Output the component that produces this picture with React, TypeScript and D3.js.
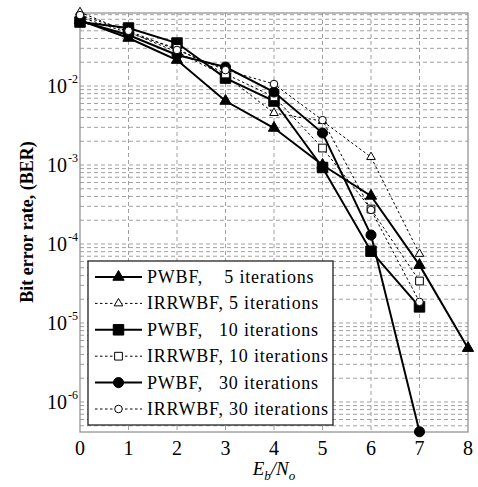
import React from "react";
import * as d3 from "d3";

const ebno = [0, 1, 2, 3, 4, 5, 6, 7, 8];
const pwbf5 = [0.068, 0.0405, 0.0213, 0.00646, 0.00294, 0.001, 4.06e-4, 5.4e-5, 4.8e-6];
const irrwbf5 = [0.086, 0.0483, 0.027, 0.0134, 0.00455, 0.0036, 0.00126, 7.5e-5];
const pwbf10 = [0.0646, 0.0542, 0.035, 0.0126, 0.00646, 9.3e-4, 8.1e-5, 1.6e-5];
const irrwbf10 = [0.0747, 0.047, 0.03, 0.0142, 0.0073, 0.00164, 2.77e-4, 3.4e-5];
const pwbf30 = [0.0665, 0.0443, 0.0247, 0.0174, 0.0084, 0.00254, 1.3e-4, 4.2e-7];
const irrwbf30 = [0.079, 0.05, 0.0286, 0.0159, 0.0106, 0.0037, 2.7e-4, 1.85e-5];
const seriesNames = [
  "PWBF,    5 iterations",
  "IRRWBF, 5 iterations",
  "PWBF,   10 iterations",
  "IRRWBF, 10 iterations",
  "PWBF,   30 iterations",
  "IRRWBF, 30 iterations",
];
const xTicks = [0, 1, 2, 3, 4, 5, 6, 7, 8];
const yDecades = [-2, -3, -4, -5, -6];

const W = 478, H = 487;
const L = 80, R = 468, T = 13, B = 432;
const FONT = "'Liberation Serif', 'Times New Roman', serif";

type Mk = "tri" | "sq" | "circ";
const series: { vals: number[]; mk: Mk; filled: boolean }[] = [
  { vals: pwbf5, mk: "tri", filled: true },
  { vals: irrwbf5, mk: "tri", filled: false },
  { vals: pwbf10, mk: "sq", filled: true },
  { vals: irrwbf10, mk: "sq", filled: false },
  { vals: pwbf30, mk: "circ", filled: true },
  { vals: irrwbf30, mk: "circ", filled: false },
];

function markerPath(mk: Mk, filled: boolean) {
  const t = mk === "tri" ? d3.symbolTriangle : mk === "sq" ? d3.symbolSquare : d3.symbolCircle;
  const size = mk === "tri" ? (filled ? 55 : 32) : mk === "sq" ? (filled ? 110 : 60) : (filled ? 80 : 45);
  return d3.symbol().type(t).size(size)() as string;
}

export default function App() {
  const x = d3.scaleLinear().domain([0, 8]).range([L, R]);
  const y = d3.scaleLog().domain([4.17e-7, 0.084]).range([B, T]);
  const line = (vals: number[]) =>
    d3.line<number>().x((_, i) => x(ebno[i])).y((v) => y(v))(vals) as string;

  const minor: number[] = [];
  for (let e = -7; e <= -1; e++) {
    for (let m = 1; m <= 9; m++) {
      const v = m * Math.pow(10, e);
      if (v > 4.17e-7 && v < 0.084) minor.push(v);
    }
  }
  const grid = "#a0a0a0";
  const legX = 88, legY = 261, legW = 245, legH = 164;

  return (
    <svg width={W} height={H} style={{ position: "absolute", left: 0, top: 0, background: "#fff" }} fontFamily={FONT}>
      <rect x={0} y={0} width={W} height={H} fill="#fff" />
      {/* grid */}
      {minor.map((v, i) => (
        <line key={"gy" + i} x1={L} x2={R} y1={y(v)} y2={y(v)} stroke={grid} strokeWidth={1} strokeDasharray="4,3" />
      ))}
      {xTicks.slice(1, -1).map((t) => (
        <line key={"gx" + t} x1={x(t)} x2={x(t)} y1={T} y2={B} stroke={grid} strokeWidth={1} strokeDasharray="4,3" />
      ))}
      <rect x={L} y={T} width={R - L} height={B - T} fill="none" stroke="#8c8c8c" strokeWidth={1.2} />
      {/* series lines */}
      {series.map((s, i) => (
        <path key={"l" + i} d={line(s.vals)} fill="none" stroke="#000"
          strokeWidth={s.filled ? 2 : 1} strokeDasharray={s.filled ? undefined : "2.5,2.5"} />
      ))}
      {series.map((s, i) =>
        s.vals.map((v, j) => (
          <path key={"m" + i + "-" + j} d={markerPath(s.mk, s.filled)}
            transform={`translate(${x(ebno[j])},${y(v)})`}
            fill={s.filled ? "#000" : "#fff"} stroke="#000" strokeWidth={1} />
        ))
      )}
      {/* legend */}
      <rect x={legX} y={legY} width={legW} height={legH} fill="#fff" stroke="#222" strokeWidth={1.3} />
      {seriesNames.map((n, i) => {
        const s = series[i];
        const cy = 277 + i * 26.4;
        return (
          <g key={"lg" + i}>
            <line x1={95} x2={142} y1={cy} y2={cy} stroke="#000" strokeWidth={s.filled ? 2 : 1}
              strokeDasharray={s.filled ? undefined : "2.5,2.5"} />
            <path d={markerPath(s.mk, s.filled)} transform={`translate(118.5,${cy})`}
              fill={s.filled ? "#000" : "#fff"} stroke="#000" />
            <text x={147} y={cy + 6} fontSize={18} style={{ whiteSpace: "pre" }} letterSpacing={0.8}>{n}</text>
          </g>
        );
      })}
      {/* x tick labels */}
      {xTicks.map((t) => (
        <text key={"xt" + t} x={x(t)} y={455} fontSize={20} textAnchor="middle">{t}</text>
      ))}
      {/* y tick labels */}
      {yDecades.map((e) => (
        <g key={"yt" + e}>
          <text x={67} y={y(Math.pow(10, e)) + 7} fontSize={20} textAnchor="end">10</text>
          <text x={68} y={y(Math.pow(10, e)) - 3} fontSize={12}>{String(e)}</text>
        </g>
      ))}
      {/* axis titles */}
      <text transform="translate(33,222) rotate(-90)" textAnchor="middle" fontSize={18} fontWeight="bold">
        Bit error rate, (BER)
      </text>
      <text x={274} y={475} fontSize={19} fontStyle="italic" textAnchor="middle">
        E<tspan fontSize={13} dy={5}>b</tspan><tspan dy={-5}>/N</tspan><tspan fontSize={13} dy={5}>o</tspan>
      </text>
    </svg>
  );
}
